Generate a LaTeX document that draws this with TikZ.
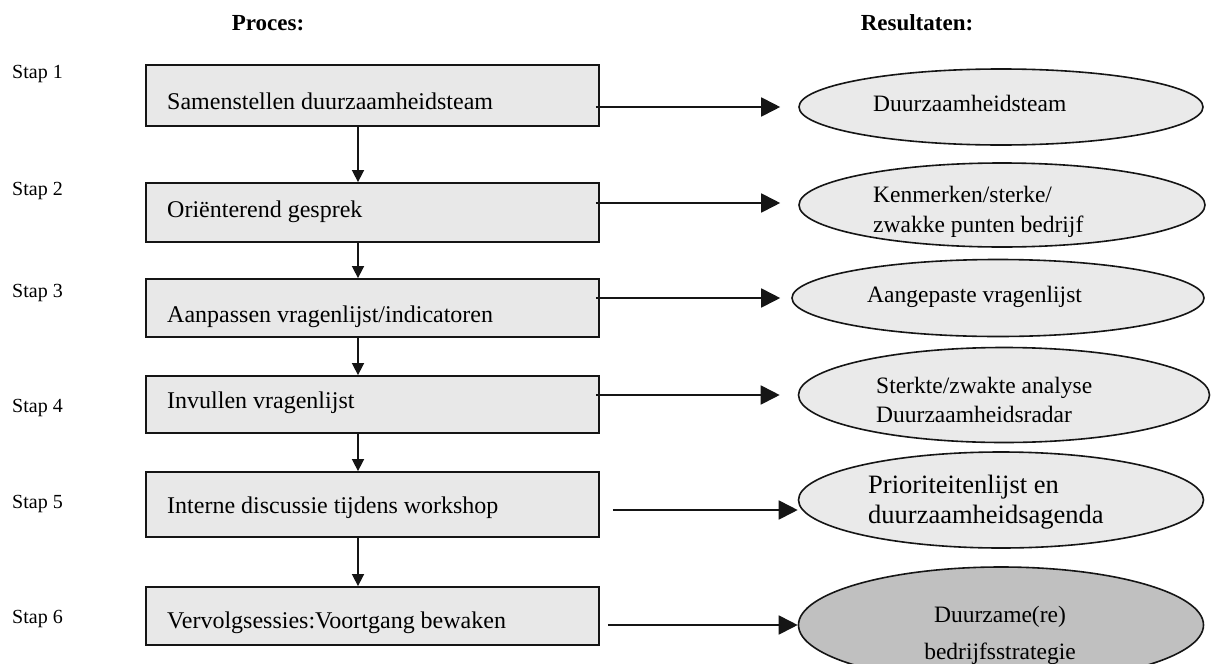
\documentclass[tikz,border=0pt]{standalone}
\usepackage{fontspec}
\setmainfont{Liberation Serif}
\usetikzlibrary{arrows.meta,shapes.geometric}
\definecolor{boxfill}{HTML}{E8E8E8}
\definecolor{ellfill}{HTML}{EAEAEA}
\definecolor{darkfill}{HTML}{C0C0C0}
\definecolor{edge}{HTML}{151515}
\begin{document}
\begin{tikzpicture}[x=1pt,y=-1pt,
 stepbox/.style={draw=edge,line width=1.8pt,fill=boxfill,rectangle,minimum width=453pt,inner sep=0pt},
 result/.style={draw=edge,line width=1.6pt,fill=ellfill,ellipse,inner sep=0pt},
 txt/.style={inner sep=0pt,anchor=base west,font=\fontsize{24}{28}\selectfont},
 etxt/.style={inner sep=0pt,anchor=base west,font=\fontsize{23.5}{28}\selectfont},
 btxt/.style={inner sep=0pt,anchor=base west,font=\fontsize{26.5}{30}\selectfont},
 ctxt/.style={inner sep=0pt,anchor=base,font=\fontsize{23.5}{28}\selectfont},
 staplbl/.style={inner sep=0pt,anchor=base west,font=\fontsize{20}{24}\selectfont},
 head/.style={inner sep=0pt,anchor=base,font=\fontsize{23}{28}\selectfont\bfseries},
 varrow/.style={draw=edge,line width=1.6pt,-{Triangle[length=12pt,width=12pt]}},
 harrow/.style={draw=edge,line width=1.8pt,-{Triangle[length=19pt,width=19pt]}},
]
\useasboundingbox (0,0) rectangle (1211,664);
\clip (0,0) rectangle (1211,664);
\fill[white] (0,0) rectangle (1211,664);

% headers
\node[head] (hp) at (268,30) {Proces:};
\node[head] (hr) at (917,30) {Resultaten:};

% step labels
\node[staplbl] (s1) at (12,78) {Stap 1};
\node[staplbl] (s2) at (12,195) {Stap 2};
\node[staplbl] (s3) at (12,297) {Stap 3};
\node[staplbl] (s4) at (12,412) {Stap 4};
\node[staplbl] (s5) at (12,508) {Stap 5};
\node[staplbl] (s6) at (12,623) {Stap 6};

% process boxes
\node[stepbox,minimum height=61pt] (b1) at (372.5,95.5) {};
\node[stepbox,minimum height=59pt] (b2) at (372.5,212.5) {};
\node[stepbox,minimum height=58pt] (b3) at (372.5,308) {};
\node[stepbox,minimum height=57pt] (b4) at (372.5,404.5) {};
\node[stepbox,minimum height=65pt] (b5) at (372.5,504.5) {};
\node[stepbox,minimum height=58pt] (b6) at (372.5,616) {};

\node[txt] (t1) at (167,109) {Samenstellen duurzaamheidsteam};
\node[txt] (t2) at (167,217) {Oriënterend gesprek};
\node[txt] (t3) at (167,322) {Aanpassen vragenlijst/indicatoren};
\node[txt] (t4) at (167,408) {Invullen vragenlijst};
\node[txt] (t5) at (167,513) {Interne discussie tijdens workshop};
\node[txt] (t6) at (167,628) {Vervolgsessies:Voortgang bewaken};

% result ellipses
\node[result,minimum width=404pt,minimum height=76pt] (e1) at (1001,107) {};
\node[result,minimum width=406pt,minimum height=84pt] (e2) at (1002,205) {};
\node[result,minimum width=412pt,minimum height=77pt] (e3) at (998,298) {};
\node[result,minimum width=411pt,minimum height=95pt] (e4) at (1004,395) {};
\node[result,minimum width=405pt,minimum height=96pt] (e5) at (1001,500) {};
\node[result,fill=darkfill,minimum width=405pt,minimum height=116pt] (e6) at (1001,625) {};

\node[etxt] (r1) at (873,111) {Duurzaamheidsteam};
\node[etxt] (r2a) at (873,202) {Kenmerken/sterke/};
\node[etxt] (r2b) at (873,232) {zwakke punten bedrijf};
\node[etxt] (r3) at (867,302) {Aangepaste vragenlijst};
\node[etxt] (r4a) at (876,393) {Sterkte/zwakte analyse};
\node[etxt] (r4b) at (876,422) {Duurzaamheidsradar};
\node[btxt] (r5a) at (868,493) {Prioriteitenlijst en};
\node[btxt] (r5b) at (868,523) {duurzaamheidsagenda};
\node[ctxt] (r6a) at (1000,622) {Duurzame(re)};
\node[ctxt] (r6b) at (1000,659) {bedrijfsstrategie};

% vertical connectors
\coordinate (axis) at (358,0);
\draw[varrow] (b1.south -| axis) -- (b2.north -| axis);
\draw[varrow] (b2.south -| axis) -- (b3.north -| axis);
\draw[varrow] (b3.south -| axis) -- (b4.north -| axis);
\draw[varrow] (b4.south -| axis) -- (b5.north -| axis);
\draw[varrow] (b5.south -| axis) -- (b6.north -| axis);

% horizontal connectors
\draw[harrow] ([xshift=-4pt]b1.east |- e1.west) -- ([xshift=-18pt]e1.west);
\draw[harrow] ([xshift=-4pt,yshift=2pt]b2.east |- e2.west) -- ([xshift=-18pt,yshift=2pt]e2.west);
\draw[harrow] ([xshift=-4pt]b3.east |- e3.west) -- ([xshift=-11pt]e3.west);
\draw[harrow] ([xshift=-4pt]b4.east |- e4.west) -- ([xshift=-18pt]e4.west);
\draw[harrow] ([xshift=13pt,yshift=-10pt]b5.east |- e5.west) -- ([yshift=-10pt]e5.west);
\draw[harrow] ([xshift=8pt]b6.east |- e6.west) -- (e6.west);
\end{tikzpicture}
\end{document}
